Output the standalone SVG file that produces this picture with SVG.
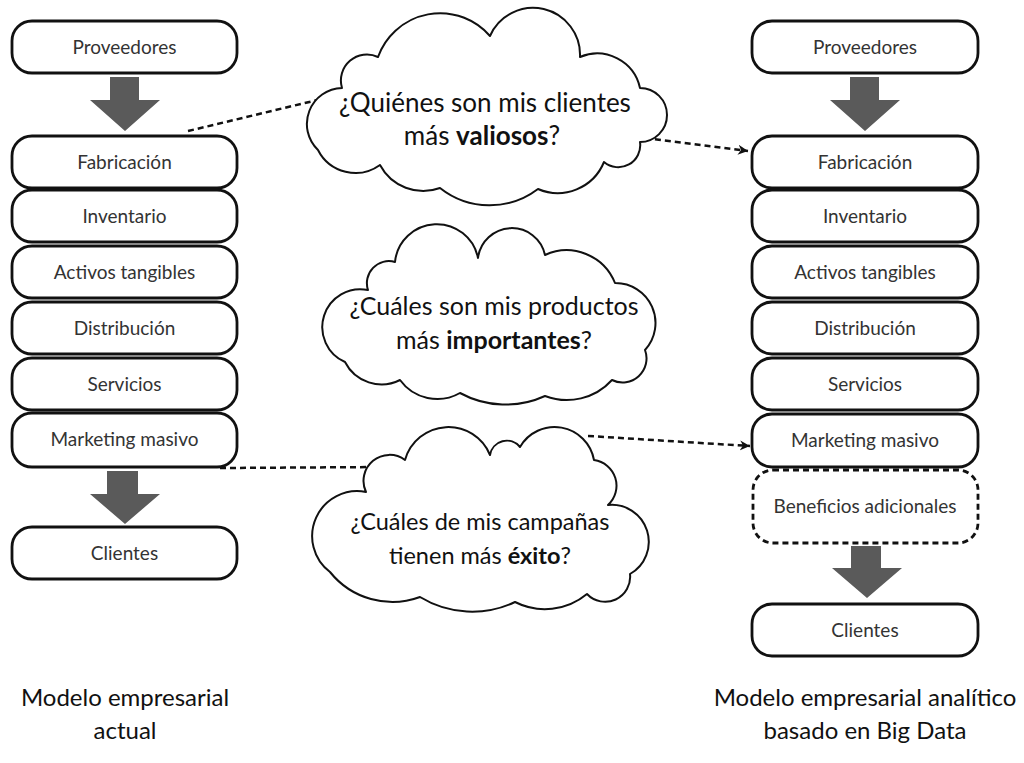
<svg xmlns="http://www.w3.org/2000/svg" width="1024" height="763" viewBox="0 0 1024 763">
<defs>
<style>
.box{fill:#fff;stroke:#111;stroke-width:2.8}
.dbox{fill:#fff;stroke:#111;stroke-width:2.8;stroke-dasharray:6 4}
.lbl{font-family:Lato,"Open Sans",sans-serif;font-size:19px;fill:#333;text-anchor:middle}
.cloud{fill:#fff;stroke:#111;stroke-width:2;stroke-linejoin:round}
.ct{font-family:Lato,"Open Sans",sans-serif;font-size:26px;fill:#111;text-anchor:middle}
.bold{font-weight:bold}
.cap{font-family:Lato,"Open Sans",sans-serif;font-size:24px;fill:#111;text-anchor:middle}
.big{fill:#5a5a5a}
.conn{fill:none;stroke:#111;stroke-width:2.5;stroke-dasharray:6 4}
</style>
<marker id="ah" markerWidth="12" markerHeight="12" refX="10" refY="6" orient="auto" markerUnits="userSpaceOnUse">
<path d="M0,1 L10,6 L0,11 L3,6 Z" fill="#111"/>
</marker>
</defs>
<rect width="1024" height="763" fill="#fff"/>

<!-- Left column -->
<g id="l-proveedores"><rect class="box" x="12" y="21" width="225" height="52" rx="20"/><text class="lbl" x="124.5" y="54">Proveedores</text></g>
<g id="l-arrow1"><path class="big" d="M110,77 H139 V100 H160 L125,131 L90,100 H110 Z"/></g>
<g id="l-fabricacion"><rect class="box" x="12" y="136" width="225" height="52" rx="20"/><text class="lbl" x="124.5" y="169">Fabricación</text></g>
<g id="l-inventario"><rect class="box" x="12" y="190" width="225" height="52" rx="20"/><text class="lbl" x="124.5" y="223">Inventario</text></g>
<g id="l-activos"><rect class="box" x="12" y="246" width="225" height="52" rx="20"/><text class="lbl" x="124.5" y="279">Activos tangibles</text></g>
<g id="l-distribucion"><rect class="box" x="12" y="302" width="225" height="52" rx="20"/><text class="lbl" x="124.5" y="335">Distribución</text></g>
<g id="l-servicios"><rect class="box" x="12" y="358" width="225" height="52" rx="20"/><text class="lbl" x="124.5" y="391">Servicios</text></g>
<g id="l-marketing"><rect class="box" x="12" y="413" width="225" height="54" rx="20"/><text class="lbl" x="124.5" y="446">Marketing masivo</text></g>
<g id="l-arrow2"><path class="big" d="M107,471 H138 V494 H160 L125,524 L90,494 H107 Z"/></g>
<g id="l-clientes"><rect class="box" x="12" y="527" width="225" height="52" rx="20"/><text class="lbl" x="124.5" y="560">Clientes</text></g>

<!-- Right column -->
<g id="r-proveedores"><rect class="box" x="752" y="21" width="226" height="52" rx="20"/><text class="lbl" x="865" y="54">Proveedores</text></g>
<g id="r-arrow1"><path class="big" d="M850,77 H879 V100 H900 L865,131 L830,100 H850 Z"/></g>
<g id="r-fabricacion"><rect class="box" x="752" y="136" width="226" height="52" rx="20"/><text class="lbl" x="865" y="169">Fabricación</text></g>
<g id="r-inventario"><rect class="box" x="752" y="190" width="226" height="52" rx="20"/><text class="lbl" x="865" y="223">Inventario</text></g>
<g id="r-activos"><rect class="box" x="752" y="246" width="226" height="52" rx="20"/><text class="lbl" x="865" y="279">Activos tangibles</text></g>
<g id="r-distribucion"><rect class="box" x="752" y="302" width="226" height="52" rx="20"/><text class="lbl" x="865" y="335">Distribución</text></g>
<g id="r-servicios"><rect class="box" x="752" y="358" width="226" height="52" rx="20"/><text class="lbl" x="865" y="391">Servicios</text></g>
<g id="r-marketing"><rect class="box" x="752" y="414" width="226" height="53" rx="20"/><text class="lbl" x="865" y="447">Marketing masivo</text></g>
<g id="r-beneficios"><rect class="dbox" x="753" y="470" width="225" height="73" rx="20"/><text class="lbl" x="865" y="513">Beneficios adicionales</text></g>
<g id="r-arrow2"><path class="big" d="M851,546 H881 V568 H902 L867,598 L832,568 H851 Z"/></g>
<g id="r-clientes"><rect class="box" x="752" y="604" width="226" height="52" rx="20"/><text class="lbl" x="865" y="637">Clientes</text></g>

<!-- Connectors -->
<g id="connectors">
<path class="conn" d="M188,131 L330,97"/>
<path class="conn" d="M645,138 L748,151" marker-end="url(#ah)"/>
<path class="conn" d="M220,468 L384,467"/>
<path class="conn" d="M588,436 L750,446" marker-end="url(#ah)"/>
</g>

<!-- Clouds -->
<g id="cloud1">
<path class="cloud" d="M318,150 A36,36 0 0 1 342,88 A26,26 0 0 1 378,57 A66,66 0 0 1 490,36 A47,47 0 0 1 580,57 A44,44 0 0 1 640,88 A27,27 0 0 1 640,142 A22,22 0 0 1 604,162 A50,50 0 0 1 538,189 A80,80 0 0 1 440,188 A49,49 0 0 1 380,165 A42,42 0 0 1 318,150 Z"/>
<text class="ct" x="485" y="112">¿Quiénes son mis clientes</text>
<text class="ct" x="482" y="145">más <tspan class="bold">valiosos</tspan>?</text>
</g>
<g id="cloud2">
<path class="cloud" d="M345,362 A38,38 0 0 1 368,290 A22,22 0 0 1 395,262 A42,42 0 0 1 478,258 A34,34 0 0 1 545,255 A52,52 0 0 1 615,283 A40,40 0 0 1 645,350 A24,24 0 0 1 612,380 A61,61 0 0 1 545,396 A95,95 0 0 1 460,393 A46,46 0 0 1 400,380 A41,41 0 0 1 345,362 Z"/>
<text class="ct" style="font-size:25px" x="494" y="315">¿Cuáles son mis productos</text>
<text class="ct" style="font-size:25px" x="494" y="349">más <tspan class="bold">importantes</tspan>?</text>
</g>
<g id="cloud3">
<path class="cloud" d="M330,572 A45,45 0 0 1 366,492 A26,26 0 0 1 405,460 A45,45 0 0 1 490,455 A17,17 0 0 1 520,447 A40,40 0 0 1 594,460 A26,26 0 0 1 608,505 A37,37 0 0 1 630,574 A25,25 0 0 1 587,594 A66,66 0 0 1 515,602 A100,100 0 0 1 420,597 A80,80 0 0 1 330,572 Z"/>
<text class="ct" style="font-size:23.5px" x="480" y="530">¿Cuáles de mis campañas</text>
<text class="ct" style="font-size:23.5px" x="480" y="564">tienen más <tspan class="bold">éxito</tspan>?</text>
</g>

<!-- Captions -->
<g id="caption-left">
<text class="cap" x="125" y="706">Modelo empresarial</text>
<text class="cap" x="125" y="739">actual</text>
</g>
<g id="caption-right">
<text class="cap" x="865" y="706">Modelo empresarial analítico</text>
<text class="cap" x="865" y="739">basado en Big Data</text>
</g>
</svg>
